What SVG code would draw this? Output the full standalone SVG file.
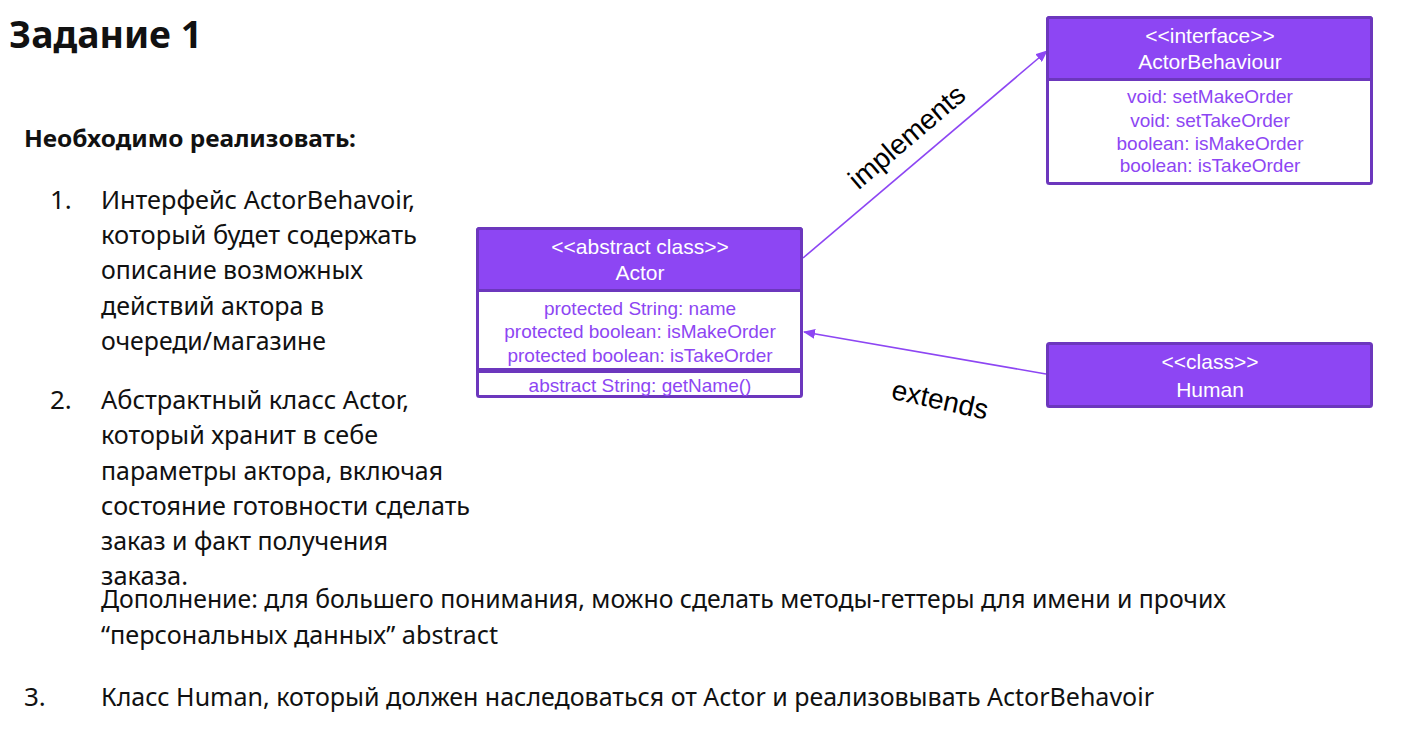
<svg xmlns="http://www.w3.org/2000/svg" width="1404" height="738" viewBox="0 0 1404 738">
<style>
.t{font-family:"Noto Sans","Open Sans","Liberation Sans",sans-serif;fill:#111;font-size:26px}
.h1{font-size:37px;font-weight:bold}
.h2{font-size:23px;font-weight:bold}
.box{fill:#fff;stroke:#6c37bd;stroke-width:3}
.hd{fill:#8d46f3;stroke:#6c37bd;stroke-width:3}
.ht{font-family:"Liberation Sans",Arial,sans-serif;font-size:21px;fill:#fff;text-anchor:middle}
.mt{font-family:"Liberation Sans",Arial,sans-serif;font-size:19px;fill:#8d46f3;text-anchor:middle}
.lbl{font-family:"Liberation Sans",Arial,sans-serif;font-size:28px;fill:#000;text-anchor:middle}
.edge{stroke:#8d46f3;stroke-width:1.6;fill:none}
</style>
<defs>
<marker id="arr" viewBox="0 0 12 10" refX="11" refY="5" markerWidth="12" markerHeight="10" markerUnits="userSpaceOnUse" orient="auto">
<path d="M0,0 L12,5 L0,10 z" fill="#8d46f3"/>
</marker>
</defs>
<rect width="1404" height="738" fill="#fff"/>

<g id="text">
<text class="t h1" x="9" y="48" textLength="193" lengthAdjust="spacingAndGlyphs">Задание 1</text>
<text class="t h2" x="24" y="147" textLength="332" lengthAdjust="spacingAndGlyphs">Необходимо реализовать:</text>
<text class="t" x="50" y="209">1.</text>
<text class="t" x="101" y="209" textLength="314" lengthAdjust="spacingAndGlyphs">Интерфейс ActorBehavoir,</text>
<text class="t" x="101" y="244" textLength="316" lengthAdjust="spacingAndGlyphs">который будет содержать</text>
<text class="t" x="101" y="279" textLength="262" lengthAdjust="spacingAndGlyphs">описание возможных</text>
<text class="t" x="101" y="315" textLength="223" lengthAdjust="spacingAndGlyphs">действий актора в</text>
<text class="t" x="101" y="350" textLength="225" lengthAdjust="spacingAndGlyphs">очереди/магазине</text>
<text class="t" x="50" y="409">2.</text>
<text class="t" x="101" y="409" textLength="308" lengthAdjust="spacingAndGlyphs">Абстрактный класс Actor,</text>
<text class="t" x="101" y="444" textLength="277" lengthAdjust="spacingAndGlyphs">который хранит в себе</text>
<text class="t" x="101" y="480" textLength="342" lengthAdjust="spacingAndGlyphs">параметры актора, включая</text>
<text class="t" x="101" y="515" textLength="369" lengthAdjust="spacingAndGlyphs">состояние готовности сделать</text>
<text class="t" x="101" y="550" textLength="287" lengthAdjust="spacingAndGlyphs">заказ и факт получения</text>
<text class="t" x="101" y="585" textLength="87" lengthAdjust="spacingAndGlyphs">заказа.</text>
<text class="t" x="101" y="608" textLength="1125" lengthAdjust="spacingAndGlyphs">Дополнение: для большего понимания, можно сделать методы-геттеры для имени и прочих</text>
<text class="t" x="101" y="644" textLength="397" lengthAdjust="spacingAndGlyphs">“персональных данных” abstract</text>
<text class="t" x="24" y="706">3.</text>
<text class="t" x="101" y="706" textLength="1053" lengthAdjust="spacingAndGlyphs">Класс Human, который должен наследоваться от Actor и реализовывать ActorBehavoir</text>
</g>

<g id="connectors">
<line class="edge" x1="803" y1="258" x2="1047" y2="51" marker-end="url(#arr)"/>
<line class="edge" x1="1046" y1="374" x2="804" y2="332" marker-end="url(#arr)"/>
<text class="lbl" transform="translate(913,144) rotate(-40.4)">implements</text>
<text class="lbl" transform="translate(938,409) rotate(12.5)">extends</text>
</g>

<g id="ActorBehaviour">
<rect class="box" x="1047.5" y="17.5" width="324" height="166" rx="2"/>
<rect class="hd" x="1047.5" y="17.5" width="324" height="62" rx="2"/>
<text class="ht" x="1210" y="43">&lt;&lt;interface&gt;&gt;</text>
<text class="ht" x="1210" y="69">ActorBehaviour</text>
<text class="mt" x="1210" y="103">void: setMakeOrder</text>
<text class="mt" x="1210" y="127">void: setTakeOrder</text>
<text class="mt" x="1210" y="150">boolean: isMakeOrder</text>
<text class="mt" x="1210" y="172">boolean: isTakeOrder</text>
</g>

<g id="Actor">
<rect class="box" x="477.5" y="228.5" width="324" height="168" rx="2"/>
<rect class="hd" x="477.5" y="228.5" width="324" height="62" rx="2"/>
<line x1="477.5" y1="370.5" x2="801.5" y2="370.5" stroke="#6c37bd" stroke-width="5"/>
<text class="ht" x="640" y="254">&lt;&lt;abstract class&gt;&gt;</text>
<text class="ht" x="640" y="280">Actor</text>
<text class="mt" x="640" y="315">protected String: name</text>
<text class="mt" x="640" y="338">protected boolean: isMakeOrder</text>
<text class="mt" x="640" y="362">protected boolean: isTakeOrder</text>
<text class="mt" x="640" y="392">abstract String: getName()</text>
</g>

<g id="Human">
<rect class="hd" x="1047.5" y="343.5" width="324" height="63" rx="2"/>
<text class="ht" x="1210" y="369">&lt;&lt;class&gt;&gt;</text>
<text class="ht" x="1210" y="397">Human</text>
</g>
</svg>
